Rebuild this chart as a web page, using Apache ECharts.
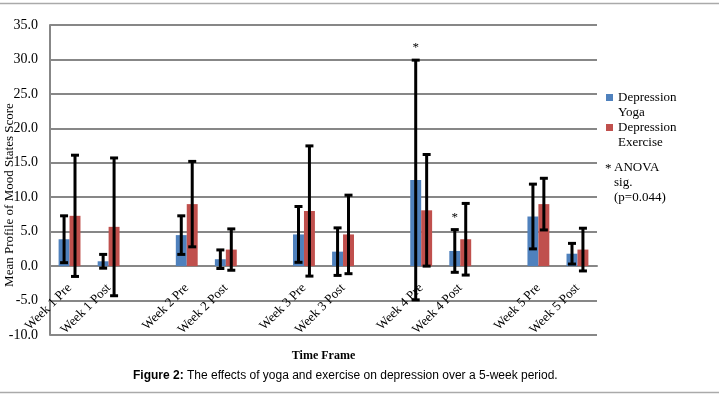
<!DOCTYPE html>
<html>
<head>
<meta charset="utf-8">
<script src="https://cdn.jsdelivr.net/npm/echarts@6/dist/echarts.min.js"></script>
<style>
  html, body { margin: 0; padding: 0; background: #fff; }
  #chart { width: 719px; height: 397px; }
</style>
</head>
<body>
<div id="chart"></div>
<script>
// data
var categories = ['Week 1 Pre', 'Week 1 Post', '', 'Week 2 Pre', 'Week 2 Post', '', 'Week 3 Pre', 'Week 3 Post', '', 'Week 4 Pre', 'Week 4 Post', '', 'Week 5 Pre', 'Week 5 Post']
var yogaMeans = [3.9, 0.7, null, 4.5, 1.0, null, 4.6, 2.1, null, 12.5, 2.2, null, 7.2, 1.8]
var yogaSD = [3.4, 1.0, null, 2.8, 1.35, null, 4.05, 3.45, null, 17.4, 3.1, null, 4.7, 1.5]
var exerciseMeans = [7.3, 5.7, null, 9.0, 2.4, null, 8.0, 4.6, null, 8.1, 3.9, null, 9.0, 2.4]
var exerciseSD = [8.8, 10.0, null, 6.2, 3.0, null, 9.45, 5.7, null, 8.1, 5.2, null, 3.75, 3.1]
var yogaSig = [0, 0, 0, 0, 0, 0, 0, 0, 0, 1, 1, 0, 0, 0]
var yTicks = { min: -10, max: 35, interval: 5 }

var serif = '"Liberation Serif", "Times New Roman", serif'

function errorData(means, sds, sig) {
  var out = []
  for (var i = 0; i < means.length; i++) {
    if (means[i] == null) continue
    out.push([i, means[i], sds[i], sig ? sig[i] : 0])
  }
  return out
}

function errorRenderer(shift) {
  return function(params, api) {
    var x = api.value(0)
    var mean = api.value(1)
    var sd = api.value(2)
    var bw = api.size([1, 0])[0]
    var hi = api.coord([x, mean + sd])
    var lo = api.coord([x, mean - sd])
    var cx = hi[0] + bw * shift
    var cap = 4
    var style = { stroke: '#000', lineWidth: 3 }
    var children = [
      { type: 'line', shape: { x1: cx, y1: hi[1], x2: cx, y2: lo[1] }, style: style },
      { type: 'line', shape: { x1: cx - cap, y1: hi[1], x2: cx + cap, y2: hi[1] }, style: style },
      { type: 'line', shape: { x1: cx - cap, y1: lo[1], x2: cx + cap, y2: lo[1] }, style: style }
    ]
    if (api.value(3)) {
      children.push({
        type: 'text',
        style: { text: '*', x: cx, y: hi[1] - 6, align: 'center', verticalAlign: 'bottom', fill: '#000', font: '13px ' + serif }
      })
    }
    return { type: 'group', children: children }
  }
}

var chart = echarts.init(document.getElementById('chart'))
chart.setOption({
  animation: false,
  textStyle: { fontFamily: serif },
  grid: { left: 50, right: 122, top: 25, bottom: 62, outerBoundsMode: 'none' },
  legend: {
    orient: 'vertical',
    left: 606,
    top: 91,
    padding: 0,
    itemWidth: 7,
    itemHeight: 7,
    itemGap: 2,
    icon: 'rect',
    data: ['Depression Yoga', 'Depression Exercise'],
    formatter: function(name) {
      var parts = name.split(' ')
      return '{n|' + parts[0] + '}\n{n|' + parts[1] + '}'
    },
    textStyle: {
      color: '#000',
      padding: [15, 0, 0, 0],
      rich: { n: { fontFamily: serif, fontSize: 13, lineHeight: 15, color: '#000' } }
    }
  },
  xAxis: {
    type: 'category',
    data: categories,
    offset: -69,
    axisLine: { onZero: false, lineStyle: { color: '#878787', width: 2 } },
    axisTick: { show: false },
    axisLabel: { interval: 0, rotate: 45, color: '#000', fontFamily: serif, fontSize: 13, margin: 20 },
    name: 'Time Frame',
    nameLocation: 'middle',
    nameGap: 84,
    nameTextStyle: { fontFamily: serif, fontSize: 12, fontWeight: 'bold', color: '#000' }
  },
  yAxis: {
    type: 'value',
    min: yTicks.min,
    max: yTicks.max,
    interval: yTicks.interval,
    axisLine: { show: true, lineStyle: { color: '#878787', width: 2 } },
    axisTick: { show: false },
    splitLine: { lineStyle: { color: '#878787', width: 2 } },
    axisLabel: {
      color: '#000', fontFamily: serif, fontSize: 14, margin: 12,
      formatter: function(v) { return v.toFixed(1) }
    }
  },
  graphic: [
    { type: 'line', shape: { x1: 0, y1: 3.5, x2: 719, y2: 3.5 }, style: { stroke: '#aaa', lineWidth: 1.5 } },
    { type: 'line', shape: { x1: 0, y1: 392.5, x2: 719, y2: 392.5 }, style: { stroke: '#aaa', lineWidth: 1.5 } },
    {
      type: 'text', x: 3, y: 195, rotation: Math.PI / 2,
      style: { text: 'Mean Profile of Mood States Score', align: 'center', verticalAlign: 'top', fill: '#000', font: '13px ' + serif }
    },
    { type: 'text', left: 605, top: 162, style: { text: '*', fill: '#000', font: '13px ' + serif } },
    {
      type: 'text', left: 614, top: 160,
      style: { text: 'ANOVA\nsig.\n(p=0.044)', fill: '#000', font: '13px ' + serif, lineHeight: 15 }
    },
    {
      type: 'text', left: 133, top: 370,
      style: {
        text: '{b|Figure 2:} The effects of yoga and exercise on depression over a 5-week period.',
        fill: '#000', font: '12px "Liberation Sans", Arial, sans-serif',
        rich: { b: { fontWeight: 'bold', fontFamily: '"Liberation Sans", Arial, sans-serif', fontSize: 12 } }
      }
    }
  ],
  series: [
    {
      name: 'Depression Yoga',
      type: 'bar',
      barWidth: '28%',
      barGap: '0%',
      itemStyle: { color: '#4F81BD' },
      data: yogaMeans
    },
    {
      name: 'Depression Exercise',
      type: 'bar',
      barWidth: '28%',
      barGap: '0%',
      itemStyle: { color: '#C0504D' },
      data: exerciseMeans
    },
    {
      type: 'custom',
      name: 'yoga sd',
      z: 5,
      renderItem: errorRenderer(-0.14),
      encode: { x: 0, y: 1 },
      data: errorData(yogaMeans, yogaSD, yogaSig)
    },
    {
      type: 'custom',
      name: 'exercise sd',
      z: 5,
      renderItem: errorRenderer(0.14),
      encode: { x: 0, y: 1 },
      data: errorData(exerciseMeans, exerciseSD)
    }
  ]
})
</script>
</body>
</html>
